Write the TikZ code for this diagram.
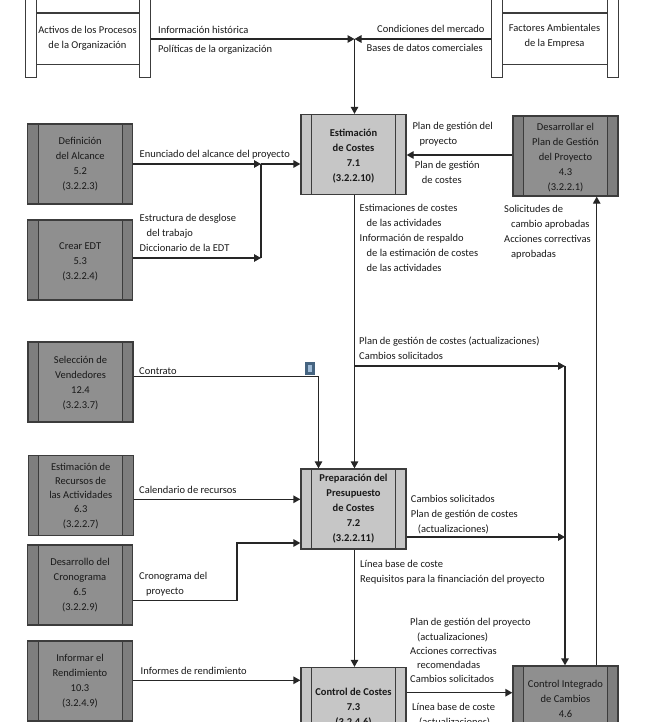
\documentclass[tikz,border=0pt]{standalone}
\usepackage{fontspec}
\setmainfont{Carlito}
\usetikzlibrary{arrows.meta}
\definecolor{procdark}{HTML}{8F8F8F}
\definecolor{procside}{HTML}{7E7E7E}
\definecolor{proclight}{HTML}{C6C6C6}
\definecolor{rimgray}{HTML}{3C3C3C}
\definecolor{markblue}{HTML}{456480}
\definecolor{markpale}{HTML}{A0BCD8}
\newcommand{\sidebars}[1]{%
  \fill[#1] (path picture bounding box.north west) rectangle ([xshift=10.5pt]path picture bounding box.south west);
  \fill[#1] (path picture bounding box.north east) rectangle ([xshift=-10.5pt]path picture bounding box.south east);
  \draw[rimgray, line width=1pt] ([xshift=10.5pt]path picture bounding box.north west) -- ([xshift=10.5pt]path picture bounding box.south west);
  \draw[rimgray, line width=1pt] ([xshift=-10.5pt]path picture bounding box.north east) -- ([xshift=-10.5pt]path picture bounding box.south east);
}
\newcommand{\lift}{\rule{0pt}{10pt}}
\tikzset{
  txt/.style={font=\fontsize{10.5}{15}\selectfont, text=black!90},
  lbl/.style={txt, align=left, anchor=north west, inner sep=0pt, yshift=-4pt},
  lblr/.style={lbl, align=right, anchor=north east},
  proc/.style={draw=rimgray, line width=1.3pt, inner sep=0pt, minimum width=105pt, minimum height=80pt, align=center, txt},
  procd/.style={proc, fill=procdark, path picture={\sidebars{procside}}},
  procl/.style={proc, fill=proclight, font=\fontsize{10.5}{15}\selectfont\bfseries, path picture={\sidebars{proclight}}},
  docbox/.style={draw=rimgray, line width=1pt, fill=white, inner sep=0pt},
  flow/.style={draw=black!85, line width=1.3pt},
  flowa/.style={flow, -{Triangle[length=7pt,width=7.5pt]}},
}
\begin{document}
\begin{tikzpicture}[x=1pt,y=-1pt]
\useasboundingbox (0,0) rectangle (666,722);
\clip (0,0) rectangle (666,722);
% documentos de arriba
\node[docbox, minimum width=11pt, minimum height=84pt, anchor=south west] (actL) at (24.5,78) {};
\node[docbox, minimum width=11pt, minimum height=84pt, anchor=south east] (actR) at (150.5,78) {};
\node[docbox, minimum width=11pt, minimum height=84pt, anchor=south west] (facL) at (491,78) {};
\node[docbox, minimum width=11pt, minimum height=84pt, anchor=south east] (facR) at (618.5,78) {};
\coordinate (actT) at (0,13);
\coordinate (actB) at (0,65);
\draw[rimgray, line width=1.6pt] (actL.east |- actT) -- (actR.west |- actT);
\draw[rimgray, line width=1pt] (actL.east |- actB) -- (actR.west |- actB);
\draw[rimgray, line width=1.6pt] (facL.east |- actT) -- (facR.west |- actT);
\draw[rimgray, line width=1pt] (facL.east |- actB) -- (facR.west |- actB);
\node[txt, align=center] (act) at (87.5,38) {Activos de los Procesos\\de la Organización};
\node[txt, align=center] (fac) at (554.5,36.5) {Factores Ambientales\\de la Empresa};
% procesos
\node[procl] (est) at (353.5,154.5) {\lift Estimación\\de Costes\\7.1\\(3.2.2.10)};
\node[procl] (pre) at (353.5,509) {Preparación del\\Presupuesto\\de Costes\\7.2\\(3.2.2.11)};
\node[procl] (con) at (353.5,707.5) {Control de Costes\\7.3\\(3.2.4.6)};
\node[procd] (dal) at (80.2,164) {Definición\\del Alcance\\5.2\\(3.2.2.3)};
\node[procd] (edt) at (80.2,260) {\lift Crear EDT\\5.3\\(3.2.2.4)};
\node[procd] (sel) at (80.5,382) {\lift Selección de\\Vendedores\\12.4\\(3.2.3.7)};
\node[procd, font=\fontsize{10.5}{14.2}\selectfont] (rec) at (80.7,495.7) {Estimación de\\Recursos de\\las Actividades\\6.3\\(3.2.2.7)};
\node[procd] (cro) at (80,585) {Desarrollo del\\Cronograma\\6.5\\(3.2.2.9)};
\node[procd] (inf) at (80,681) {Informar el\\Rendimiento\\10.3\\(3.2.4.9)};
\node[procd] (pla) at (565.5,156) {\lift Desarrollar el\\Plan de Gestión\\del Proyecto\\4.3\\(3.2.2.1)};
\node[procd] (cic) at (565.5,706) {Control Integrado\\de Cambios\\4.6\\~};
\node[draw=markblue, fill=markpale, line width=3pt, minimum width=7pt, minimum height=10pt, inner sep=0pt] (mrk) at (310,368) {};
% puntos de paso
\coordinate (jA) at (261,164);
\coordinate (jB) at (354.5,39);
\coordinate (jC) at (565,366);
\coordinate (jD) at (565,537);
\coordinate (jE) at (318.5,376.5);
\coordinate (jF) at (237,543);
\coordinate (jG) at (354.5,366);
% conectores
\draw[flowa] (actR.east |- jB) -- (jB);
\draw[flowa] (facL.west |- jB) -- (jB);
\draw[flowa] (jB) -- (jB |- est.north);
\draw[flowa] (dal.east |- jA) -- (jA);
\draw[flowa] (jA) -- (est.west |- jA);
\draw[flowa] (edt.east |- 0,258) -- (jA |- 0,258);
\draw[flow] (jA) -- (jA |- 0,258);
\draw[flowa] (pla.west |- 0,155) -- (est.east |- 0,155);
\draw[flowa] (jG |- est.south) -- (jG |- pre.north);
\draw[flowa] (jG) -- (jC);
\draw[flowa] (jC) -- (jC |- cic.north);
\draw[flowa] (pre.east |- jD) -- (jD);
\draw[flowa] (jG |- pre.south) -- (jG |- con.north);
\draw[flowa] (con.east |- 0,692.7) -- (cic.west |- 0,692.7);
\draw[flowa] (596.7,0 |- cic.north) -- (596.7,0 |- pla.south);
\draw[flowa] (sel.east |- jE) -- (jE) -- (jE |- pre.north);
\draw[flowa] (rec.east |- 0,499.3) -- (pre.west |- 0,499.3);
\draw[flowa] (cro.east |- 0,600.7) -| (jF) -- (pre.west |- jF);
\draw[flowa] (inf.east |- 0,680.3) -- (con.west |- 0,680.3);
% textos
\node[lbl] (tHis) at (158,22.5) {Información histórica};
\node[lbl] (tPol) at (158,41) {Políticas de la organización};
\node[lblr] (tCon) at (484.7,21.5) {Condiciones del mercado};
\node[lblr] (tBas) at (483,40.5) {Bases de datos comerciales};
\node[lbl] (tEnu) at (139.5,146.5) {Enunciado del alcance del proyecto};
\node[lbl] (tEst) at (139.5,210.5) {Estructura de desglose\\\hspace*{7pt}del trabajo\\Diccionario de la EDT};
\node[lbl] (tPla) at (412.3,118.5) {Plan de gestión del\\\hspace*{7pt}proyecto};
\node[lbl] (tGes) at (414.7,157.5) {Plan de gestión\\\hspace*{7pt}de costes};
\node[lbl] (tAct) at (359.5,200.5) {Estimaciones de costes\\\hspace*{7pt}de las actividades\\Información de respaldo\\\hspace*{7pt}de la estimación de costes\\\hspace*{7pt}de las actividades};
\node[lbl] (tSol) at (504,201.5) {Solicitudes de\\\hspace*{7pt}cambio aprobadas\\Acciones correctivas\\\hspace*{7pt}aprobadas};
\node[lbl] (tUpd) at (359,332.5) {Plan de gestión de costes (actualizaciones)\\Cambios solicitados};
\node[lbl] (tCto) at (139,363) {Contrato};
\node[lbl] (tCal) at (139,482.5) {Calendario de recursos};
\node[lbl] (tCro) at (139,568.5) {Cronograma del\\\hspace*{7pt}proyecto};
\node[lbl] (tInf) at (140.5,663.5) {Informes de rendimiento};
\node[lbl] (tCam) at (410.7,491.5) {Cambios solicitados\\Plan de gestión de costes\\\hspace*{7pt}(actualizaciones)};
\node[lbl] (tLin) at (360,556.5) {Línea base de coste\\Requisitos para la financiación del proyecto};
\node[lbl, font=\fontsize{10.5}{14.2}\selectfont] (tPro) at (410,614.5) {Plan de gestión del proyecto\\\hspace*{7pt}(actualizaciones)\\Acciones correctivas\\\hspace*{7pt}recomendadas\\Cambios solicitados};
\node[lbl] (tBal) at (412,699) {Línea base de coste\\\hspace*{7pt}(actualizaciones)};
\end{tikzpicture}
\end{document}
